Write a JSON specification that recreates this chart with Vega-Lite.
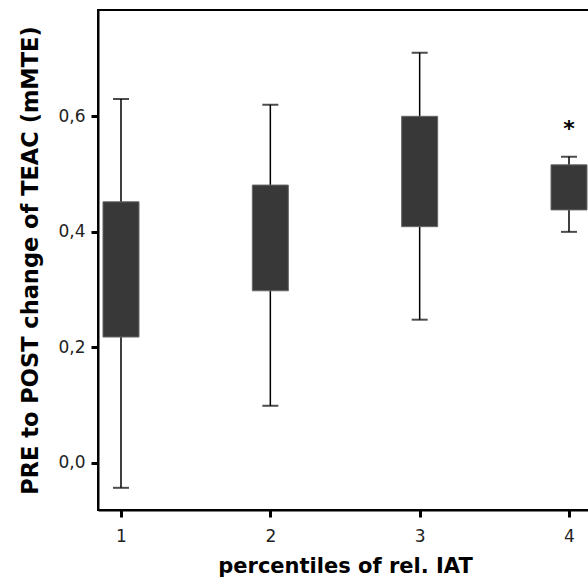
{
  "$schema": "https://vega.github.io/schema/vega-lite/v6.json",
  "autosize": {"type": "none"},
  "padding": {"left": 98, "top": 10, "right": 0, "bottom": 71},
  "width": 494,
  "height": 500,
  "background": "white",
  "config": {
    "view": {"stroke": "#000", "strokeWidth": 2},
    "axis": {"grid": false}
  },
  "datasets": {
    "boxes": [
      {"pct": 1, "lo": -0.043, "q1": 0.218, "q3": 0.452, "hi": 0.630},
      {"pct": 2, "lo": 0.099, "q1": 0.298, "q3": 0.481, "hi": 0.620},
      {"pct": 3, "lo": 0.248, "q1": 0.409, "q3": 0.600, "hi": 0.710},
      {"pct": 4, "lo": 0.400, "q1": 0.438, "q3": 0.516, "hi": 0.530}
    ],
    "outliers": [
      {"pct": 4, "v": 0.582}
    ]
  },
  "encoding": {
    "x": {
      "field": "pct", "type": "ordinal",
      "scale": {"type": "point", "domain": [1, 2, 3, 4], "padding": 0.154},
      "axis": {
        "title": "percentiles of rel. IAT",
        "titleFont": "DejaVu Sans", "titleFontWeight": "bold", "titleFontSize": 21, "titleColor": "#000",
        "titlePadding": 11,
        "labelFont": "DejaVu Sans", "labelFontSize": 17, "labelColor": "#222", "labelAngle": 0,
        "labelPadding": 11,
        "domainColor": "#000", "domainWidth": 2,
        "tickColor": "#000", "tickWidth": 3, "tickSize": 7
      }
    }
  },
  "layer": [
    {
      "data": {"name": "boxes"},
      "mark": {"type": "rule", "color": "#000", "strokeWidth": 1.5},
      "encoding": {
        "y": {
          "field": "lo", "type": "quantitative",
          "scale": {"domain": [-0.0814, 0.784], "nice": false, "zero": false},
          "axis": {
            "title": "PRE to POST change of TEAC (mMTE)",
            "titleFont": "DejaVu Sans", "titleFontWeight": "bold", "titleFontSize": 22.5, "titleColor": "#000",
            "titlePadding": 15,
            "values": [0, 0.2, 0.4, 0.6],
            "labelExpr": "replace(format(datum.value, '.1f'), '.', ',')",
            "labelFont": "DejaVu Sans", "labelFontSize": 17, "labelColor": "#222",
            "labelPadding": 6,
            "domainColor": "#000", "domainWidth": 2,
            "tickColor": "#000", "tickWidth": 3, "tickSize": 7
          }
        },
        "y2": {"field": "hi"}
      }
    },
    {
      "data": {"name": "boxes"},
      "mark": {"type": "tick", "color": "#000", "size": 16, "thickness": 2},
      "encoding": {"y": {"field": "lo", "type": "quantitative"}}
    },
    {
      "data": {"name": "boxes"},
      "mark": {"type": "tick", "color": "#000", "size": 16, "thickness": 2},
      "encoding": {"y": {"field": "hi", "type": "quantitative"}}
    },
    {
      "data": {"name": "boxes"},
      "mark": {"type": "bar", "size": 36, "fill": "#383838", "stroke": "#666", "strokeWidth": 1},
      "encoding": {
        "y": {"field": "q1", "type": "quantitative"},
        "y2": {"field": "q3"}
      }
    },
    {
      "data": {"name": "outliers"},
      "mark": {"type": "text", "text": "*", "font": "DejaVu Sans", "fontSize": 22, "fontWeight": "bold", "color": "#000", "baseline": "middle", "dy": 2},
      "encoding": {"y": {"field": "v", "type": "quantitative"}}
    }
  ]
}
